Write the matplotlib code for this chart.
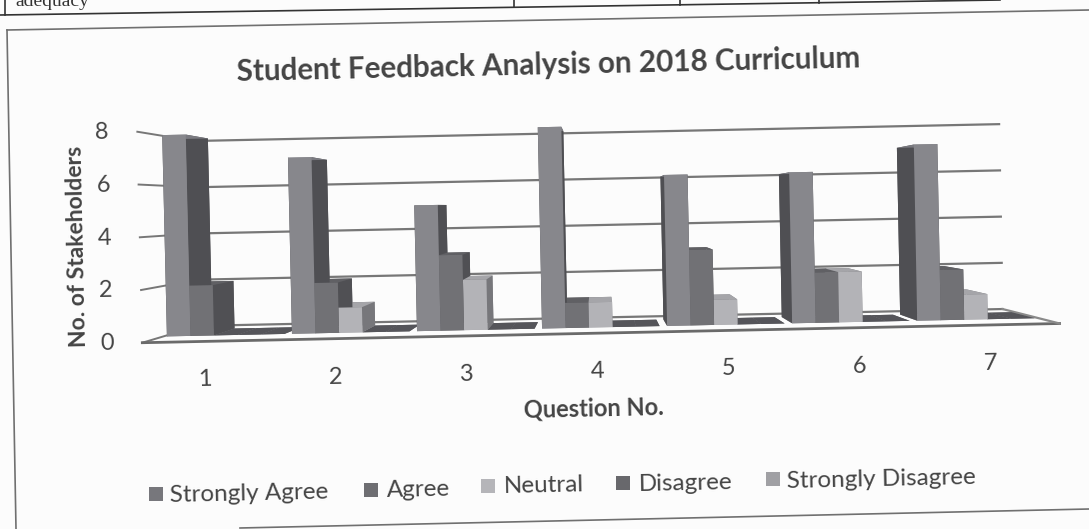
import matplotlib
matplotlib.use('Agg')

import numpy as np
import matplotlib.pyplot as plt
from matplotlib.lines import Line2D
from matplotlib.patches import Rectangle
from mpl_toolkits.mplot3d import proj3d

questions = ["1", "2", "3", "4", "5", "6", "7"]
strongly_agree = [8, 7, 5, 8, 6, 6, 7]
agree = [2, 2, 3, 1, 3, 2, 2]
neutral = [0, 1, 2, 1, 1, 2, 1]
disagree = [0, 0, 0, 0, 0, 0, 0]
strongly_disagree = [0, 0, 0, 0, 0, 0, 0]
series_names = ["Strongly Agree", "Agree", "Neutral", "Disagree", "Strongly Disagree"]
y_ticks = [0, 2, 4, 6, 8]

# front, side, top shade of each series
front_cols = ["#87878c", "#717175", "#b3b3b7", "#6a6a6e", "#a0a0a4"]
side_cols = ["#4f4f53", "#505054", "#77777b", "#4a4a4e", "#6a6a6e"]
top_cols = ["#7a7a80", "#606064", "#a5a5a9", "#505054", "#59595d"]
legend_cols = ["#77777c", "#6e6e72", "#b5b5b9", "#68686c", "#a0a0a4"]
plate_col = "#55555a"  # zero height bars show as a flat dark plate

W, H = 1089, 529
TILT = 1.25  # scan is slightly rotated
FONT = "Lato"
INK = "#444444"

fig = plt.figure(figsize=(W / 100, H / 100), dpi=100, facecolor="#fcfcfc")

# square 3d axes, bigger than the figure, centred on the plot middle
side = 1089
cx, cy = 584, 241
ax = fig.add_axes([(cx - side / 2) / W, (H - cy - side / 2) / H, side / W, side / H],
                  projection="3d")
ax.set_proj_type("persp", focal_length=0.32)
ax.view_init(elev=0.6, azim=-90, roll=1.2)
ax.set_box_aspect((4.35, 1.26, 1.0), zoom=0.815)
ax.set_xlim(0, 7)
ax.set_ylim(0, 1)
ax.set_zlim(0, 8)
ax.set_axis_off()
ax.patch.set_alpha(0)
ax.computed_zorder = False

# gridlines on back and left wall
grid_col = "#777777"
for t in y_ticks:
    ax.plot([0, 7], [1, 1], [t, t], color=grid_col, lw=1.6, zorder=1)
    ax.plot([0, 0], [0, 1], [t, t], color=grid_col, lw=1.4, zorder=1)
ax.plot([0, 7], [0, 0], [0, 0], color="#6a6a6a", lw=2.0, zorder=1)
ax.plot([7, 7], [0, 1], [0, 0], color="#8a8a8a", lw=1.6, zorder=1)

# bars
values = np.array([strongly_agree, agree, neutral, disagree, strongly_disagree], dtype=float)
bar_w = 0.188
bar_d = 0.42
gap = (1 - bar_w * len(series_names)) / 2
xs, hs, face_cols = [], [], []
for s in range(len(series_names)):
    for q in range(len(questions)):
        xs.append(q + gap + s * bar_w)
        hs.append(values[s, q])
        top = top_cols[s] if values[s, q] > 0 else plate_col
        # bottom, top, front, back, left, right
        face_cols += [top, top, front_cols[s], side_cols[s], side_cols[s], side_cols[s]]
xs = np.array(xs)
ax.bar3d(xs, np.full(len(xs), 0.34), np.zeros(len(xs)), bar_w, bar_d, hs,
         color=face_cols, shade=False, linewidth=0, zorder=2)

# tick labels: work out where the 3d point lands, then put plain figure text there
fig.canvas.draw()
proj = ax.get_proj()
def tick_label(x, y, z, s):
    px, py, _ = proj3d.proj_transform(x, y, z, proj)
    fx, fy = fig.transFigure.inverted().transform(ax.transData.transform((px, py)))
    fig.text(fx, fy, s, fontsize=17, family=FONT, color=INK, ha="center", va="center",
             rotation=TILT)

for t in y_ticks:
    tick_label(-0.27, 0, t, str(t))
for q, name in enumerate(questions):
    tick_label(q + 0.47, 0, -1.45, name)

fig.text(548 / W, 1 - 65 / H, "Student Feedback Analysis on 2018 Curriculum", fontsize=21.3,
         family=FONT, weight="bold", color=INK, ha="center", va="center", rotation=TILT)
fig.text(77 / W, 1 - 246 / H, "No. of Stakeholders", fontsize=16.5, family=FONT, weight="bold",
         color=INK, ha="center", va="center", rotation=90 + TILT)
fig.text(594 / W, 1 - 408 / H, "Question No.", fontsize=17, family=FONT, weight="bold",
         color=INK, ha="center", va="center", rotation=TILT)

# legend is tilted with the scan, so it is placed by hand
sq_x = [149, 364, 481, 616, 766]
txt_x = [170, 386, 503, 638, 787]
leg_y = [494, 490, 486, 483, 479]
for i, name in enumerate(series_names):
    fig.add_artist(Rectangle(((sq_x[i]) / W, 1 - (leg_y[i] + 7) / H), 14 / W, 14 / H,
                             transform=fig.transFigure, fc=legend_cols[i], ec="none"))
    fig.text(txt_x[i] / W, 1 - leg_y[i] / H, name, fontsize=17.5, family=FONT, color=INK,
             ha="left", va="center", rotation=TILT)

# chart frame and the bit of table above it on the scanned page
frame_col = "#707070"
def page_line(x0, y0, x1, y1, col=frame_col, lw=1.2):
    fig.add_artist(Line2D([x0 / W, x1 / W], [1 - y0 / H, 1 - y1 / H], color=col, lw=lw,
                          transform=fig.transFigure))

page_line(7, 30, 1089, 10)
page_line(7, 30, 16, 529)
page_line(240, 528, 1089, 509)
page_line(0, 15, 1000, 0, col="#333333")
page_line(5, 0, 5, 15, col="#333333")
for vx, vy in [(514, 7), (680, 5), (819, 3)]:
    page_line(vx, 0, vx, vy, col="#333333")
fig.text(15 / W, 1 - 6 / H, "adequacy", fontsize=14, family="Liberation Serif", color="#333333")

fig.savefig("out.png", dpi=100, facecolor=fig.get_facecolor())
